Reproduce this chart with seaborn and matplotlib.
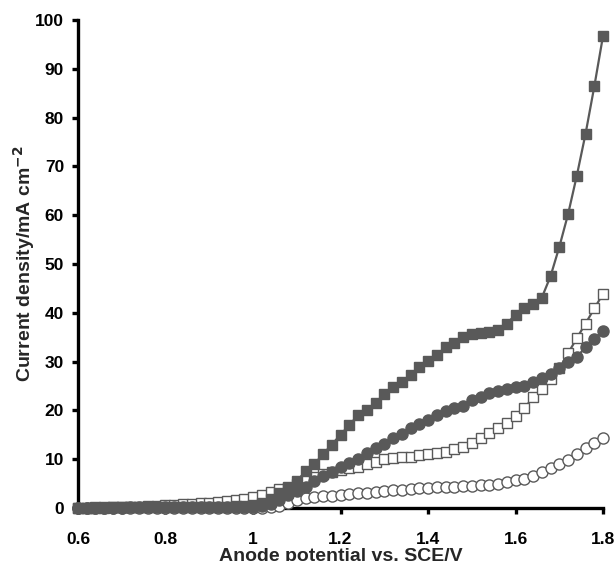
import numpy as np
import pandas as pd
import matplotlib
matplotlib.use("Agg")
import matplotlib.pyplot as plt
import seaborn as sns

potential = [round(0.6 + 0.02 * i, 2) for i in range(61)]

filled_square = [0.0, 0.0, 0.0, 0.0, 0.1, 0.1, 0.1, 0.2, 0.2, 0.2,
                 0.3, 0.3, 0.3, 0.3, 0.3, 0.3, 0.3, 0.3, 0.4, 0.4,
                 0.6, 1.0, 1.8, 3.0, 4.0, 5.5, 7.5, 9.0, 11.0, 13.0,
                 15.0, 17.0, 19.0, 20.0, 21.6, 23.3, 24.7, 25.8, 27.3, 28.8,
                 30.1, 31.4, 32.9, 33.9, 35.0, 35.7, 35.9, 36.1, 36.5, 37.8,
                 39.6, 40.9, 41.8, 43.1, 47.5, 53.5, 60.2, 68.1, 76.7, 86.4,
                 96.8]

filled_circle = [0.0, 0.0, 0.0, 0.0, 0.0, 0.0, 0.1, 0.1, 0.1, 0.1,
                 0.1, 0.1, 0.1, 0.1, 0.1, 0.1, 0.1, 0.1, 0.2, 0.2,
                 0.3, 0.5, 0.9, 1.6, 2.6, 3.5, 4.4, 5.5, 6.6, 7.4,
                 8.4, 9.2, 10.1, 11.2, 12.3, 13.2, 14.3, 15.2, 16.3, 17.2,
                 18.1, 19.0, 19.8, 20.4, 21.0, 22.2, 22.8, 23.5, 24.0, 24.4,
                 24.8, 25.1, 25.8, 26.6, 27.5, 28.6, 29.9, 31.0, 32.9, 34.6,
                 36.3]

open_square = [0.0, 0.0, 0.1, 0.1, 0.2, 0.2, 0.3, 0.3, 0.4, 0.5,
               0.6, 0.7, 0.8, 0.9, 1.0, 1.1, 1.2, 1.4, 1.6, 1.9,
               2.2, 2.6, 3.2, 3.8, 4.3, 5.0, 5.7, 6.4, 7.0, 7.3,
               7.7, 8.2, 8.4, 9.0, 9.5, 10.0, 10.3, 10.5, 10.5, 10.8,
               11.0, 11.2, 11.5, 12.1, 12.5, 13.4, 14.3, 15.4, 16.4, 17.4,
               18.9, 20.4, 22.7, 24.4, 26.4, 28.6, 31.7, 34.8, 37.8, 40.9,
               43.9]

open_circle = [0.0, 0.0, 0.0, 0.0, 0.0, 0.0, 0.0, 0.0, 0.0, 0.0,
               0.0, 0.0, 0.0, 0.0, 0.0, 0.0, 0.0, 0.0, 0.0, 0.0,
               0.0, 0.0, 0.1, 0.5, 1.0, 1.6, 2.0, 2.2, 2.4, 2.5,
               2.7, 2.9, 3.0, 3.1, 3.3, 3.5, 3.6, 3.7, 3.8, 4.0,
               4.1, 4.2, 4.3, 4.4, 4.5, 4.6, 4.7, 4.8, 5.0, 5.3,
               5.7, 6.0, 6.6, 7.3, 8.1, 9.0, 9.8, 11.0, 12.3, 13.4,
               14.4]

x_ticks = [0.6, 0.8, 1.0, 1.2, 1.4, 1.6, 1.8]
x_tick_labels = ["0.6", "0.8", "1", "1.2", "1.4", "1.6", "1.8"]
y_ticks = list(range(0, 101, 10))

sns.set_style("ticks")
plt.rcParams["font.family"] = ["Liberation Sans", "DejaVu Sans"]
plt.rcParams["font.weight"] = "bold"

gray = "#595959"

fig = plt.figure(figsize=(6.16, 5.61), dpi=100)
ax = fig.add_axes([0.1266, 0.0945, 0.979 - 0.1266, 0.9643 - 0.0945])

series = [
    (open_circle, "o", "white"),
    (open_square, "s", "white"),
    (filled_circle, "o", gray),
    (filled_square, "s", gray),
]
for vals, mk, face in series:
    df = pd.DataFrame({"x": potential, "y": vals})
    sns.lineplot(data=df, x="x", y="y", ax=ax, color=gray, linewidth=1.6,
                 marker=mk, markersize=7.8 if mk == "s" else 8.0,
                 markerfacecolor=face, markeredgecolor=gray,
                 markeredgewidth=1.0, clip_on=False, zorder=3)

ax.set_xlim(0.6, 1.8)
ax.set_ylim(0, 100)
ax.set_xticks(x_ticks)
ax.set_xticklabels(x_tick_labels)
ax.set_yticks(y_ticks)
sns.despine(ax=ax)
for s in ["left", "bottom"]:
    ax.spines[s].set_linewidth(2.4)
    ax.spines[s].set_color("black")
ax.tick_params(axis="both", direction="out", length=4, width=2.4,
               labelsize=12.5, colors="black")
ax.tick_params(axis="x", pad=13)
ax.tick_params(axis="y", pad=6)
for lab in ax.get_xticklabels() + ax.get_yticklabels():
    lab.set_fontweight("bold")

ax.set_xlabel("Anode potential vs. SCE/V", fontsize=14, fontweight="bold", labelpad=1)
ax.set_ylabel("Current density/mA cm$^{\\mathbf{-2}}$", fontsize=14, fontweight="bold")
ax.yaxis.set_label_coords(-0.078, 0.5)

fig.savefig("out.png", dpi=100)
